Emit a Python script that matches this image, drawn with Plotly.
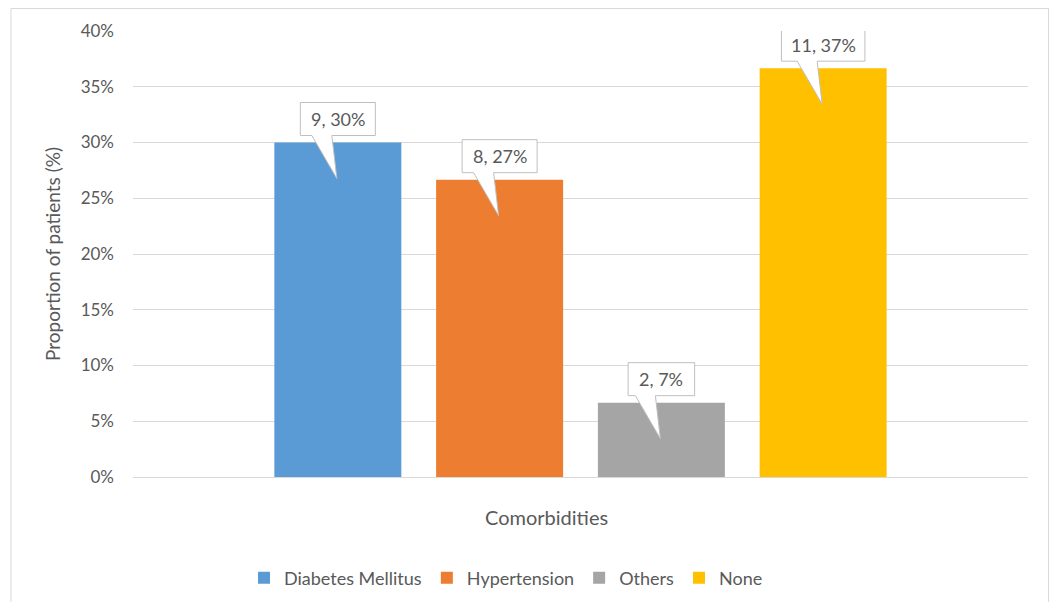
import plotly.graph_objects as go

# ── Data ──────────────────────────────────────────────────────────────────────
SERIES = ["Diabetes Mellitus", "Hypertension", "Others", "None"]
COUNTS = [9, 8, 2, 11]
TOTAL = 30
PERCENTS = [c / TOTAL for c in COUNTS]
Y_TICKS = [0, 0.05, 0.10, 0.15, 0.20, 0.25, 0.30, 0.35, 0.40]

# ── Style ─────────────────────────────────────────────────────────────────────
COLORS = ["#5B9BD5", "#ED7D31", "#A5A5A5", "#FFC000"]
TEXT = "#595959"
GRID = "#D9D9D9"
BORDER = "#BFBFBF"
FONT = "Lato, 'Open Sans', sans-serif"

# page body has an 8px margin, so the figure sits at (8, 8) in the window
OFF = 8
W, H = 1057 - 2 * OFF, 610 - 2 * OFF
L, T = 133 - OFF, 31 - OFF          # plot area starts at (133, 31) in the window
R, B = W - (1028 - OFF), H - (477 - OFF)
BARGAP, GROUPGAP = 0.277, 0.215

pw, ph = W - L - R, H - T - B
slot = (1 - BARGAP) / len(SERIES)
bar_w = slot * (1 - GROUPGAP)
centers = [-(1 - BARGAP) / 2 + (i + 0.5) * slot for i in range(len(SERIES))]

fig = go.Figure()
for name, cnt, pct, col, cx in zip(SERIES, COUNTS, PERCENTS, COLORS, centers):
    fig.add_trace(go.Bar(
        x=[cx], y=[pct], name=name,
        width=bar_w,
        marker=dict(color=col, line=dict(width=0)),
        hoverinfo="name+y",
    ))

    label = f"{cnt}, {round(pct * 100)}%"
    hw = (8.5 * len(label) + 24) / 2
    # callout: box above bar with a wedge pointing into the bar (pixels)
    path = (f"M {-hw},7 L {-hw},40 L {hw},40 L {hw},7 "
            f"L -6,7 L -1,-36 L -26,7 Z")
    fig.add_shape(
        type="path", path=path,
        xref="x", yref="y", xsizemode="pixel", ysizemode="pixel",
        xanchor=cx, yanchor=pct,
        fillcolor="white", line=dict(color=BORDER, width=1),
        layer="above",
    )
    fig.add_annotation(
        x=cx, y=pct, xref="x", yref="y", text=label, showarrow=False,
        yshift=23.5, yanchor="middle",
        font=dict(family=FONT, size=18, color=TEXT),
    )

# outer chart border (kept just inside the figure)
fig.add_shape(
    type="rect", xref="paper", yref="paper",
    x0=(11 - OFF - L) / pw, x1=(W - 0.5 - L) / pw,
    y0=(H - B - (H + 10)) / ph, y1=(H - B - 0.5) / ph,
    line=dict(color=GRID, width=1), fillcolor="rgba(0,0,0,0)", layer="below",
)

# x-axis title, placed as in the original (left of plot centre)
fig.add_annotation(
    text="Comorbidities", xref="paper", yref="paper",
    x=(546.5 - 133) / pw, y=-(517 - 477) / ph, yanchor="middle",
    showarrow=False, font=dict(family=FONT, size=20, color=TEXT),
)

fig.update_layout(
    width=W, height=H,
    margin=dict(l=L, r=R, t=T, b=B),
    barmode="overlay",
    paper_bgcolor="white", plot_bgcolor="white",
    font=dict(family=FONT, color=TEXT, size=17),
    xaxis=dict(
        range=[-0.5, 0.5], showticklabels=False, showgrid=False,
        zeroline=False, showline=False, fixedrange=True,
    ),
    yaxis=dict(
        range=[0, 0.4], tickvals=Y_TICKS, tickformat=".0%",
        showgrid=True, gridcolor=GRID, gridwidth=1,
        zeroline=True, zerolinecolor=GRID, zerolinewidth=1,
        showline=False, ticklabelstandoff=18,
        tickfont=dict(size=17, color=TEXT),
        title=dict(text="Proportion of patients (%)", font=dict(size=19, color=TEXT), standoff=14),
    ),
    legend=dict(
        orientation="h", xref="container", yref="container",
        x=(506 - OFF) / W, xanchor="center", y=1 - (578 - OFF) / H, yanchor="middle",
        font=dict(size=18, color=TEXT), itemwidth=30, traceorder="normal",
    ),
    showlegend=True,
)

fig.write_html("out.html")
